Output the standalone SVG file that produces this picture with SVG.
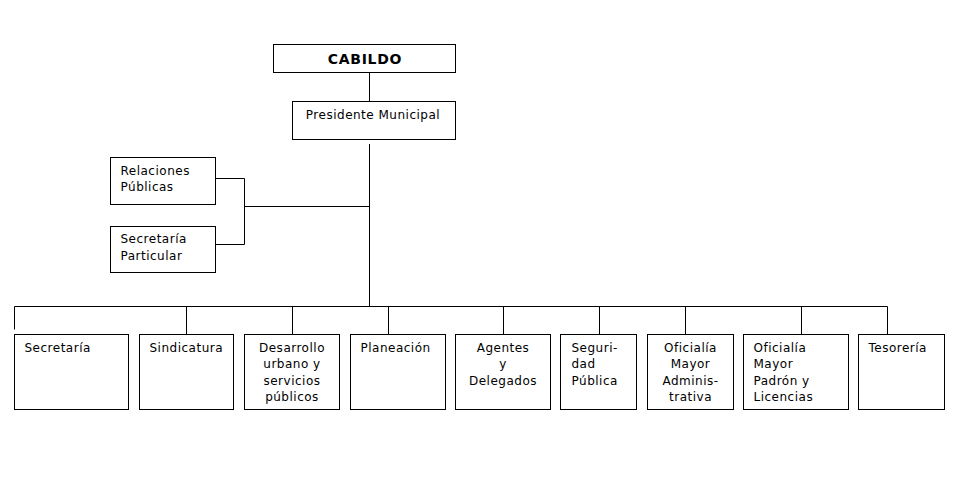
<svg xmlns="http://www.w3.org/2000/svg" width="959" height="479" viewBox="0 0 959 479">
<style>
rect{fill:#fff;stroke:#000;stroke-width:1}
.c line{stroke:#000;stroke-width:1}
text{font-family:"DejaVu Sans","Verdana",sans-serif;font-size:12px;letter-spacing:0.5px;fill:#000}
.m{text-anchor:middle}
.b{font-weight:bold;font-size:14px;letter-spacing:0.7px}
</style>
<rect x="0" y="0" width="959" height="479" style="stroke:none"/>
<g class="c" id="connectors">
<line x1="369.5" y1="72.5" x2="369.5" y2="101.5"/>
<line x1="369.5" y1="144" x2="369.5" y2="306.5"/>
<line x1="215.5" y1="178.5" x2="244.5" y2="178.5"/>
<line x1="215.5" y1="244.5" x2="244.5" y2="244.5"/>
<line x1="244.5" y1="178.5" x2="244.5" y2="244.5"/>
<line x1="244.5" y1="206.5" x2="369.5" y2="206.5"/>
<line x1="14.5" y1="306.5" x2="887.5" y2="306.5"/>
<line x1="14.5" y1="306.5" x2="14.5" y2="329.5"/>
<line x1="186.5" y1="306.5" x2="186.5" y2="334.5"/>
<line x1="292.5" y1="306.5" x2="292.5" y2="334.5"/>
<line x1="388.5" y1="306.5" x2="388.5" y2="334.5"/>
<line x1="503.5" y1="306.5" x2="503.5" y2="334.5"/>
<line x1="599.5" y1="306.5" x2="599.5" y2="334.5"/>
<line x1="685.5" y1="306.5" x2="685.5" y2="334.5"/>
<line x1="801.5" y1="306.5" x2="801.5" y2="334.5"/>
<line x1="887.5" y1="306.5" x2="887.5" y2="334.5"/>
</g>
<g id="cabildo"><rect x="273.5" y="44.5" width="182" height="28"/><text class="b m" x="365" y="64">CABILDO</text></g>
<g id="presidente"><rect x="292.5" y="101.5" width="163" height="38"/><text class="m" x="373" y="119">Presidente Municipal</text></g>
<g id="relaciones"><rect x="110.5" y="157.5" width="105" height="47"/><text x="120.5" y="175">Relaciones</text><text x="120.5" y="191">Públicas</text></g>
<g id="particular"><rect x="110.5" y="226.5" width="105" height="46"/><text x="120.5" y="243">Secretaría</text><text x="120.5" y="260">Particular</text></g>
<g id="secretaria"><rect x="14.5" y="334.5" width="114" height="75"/><text x="24.5" y="352">Secretaría</text></g>
<g id="sindicatura"><rect x="139.5" y="334.5" width="94" height="75"/><text x="149.5" y="352">Sindicatura</text></g>
<g id="desarrollo"><rect x="244.5" y="334.5" width="95" height="75"/><text class="m" x="292" y="352">Desarrollo</text><text class="m" x="292" y="368">urbano y</text><text class="m" x="292" y="384.5">servicios</text><text class="m" x="292" y="400.5">públicos</text></g>
<g id="planeacion"><rect x="350.5" y="334.5" width="95" height="75"/><text x="360.5" y="352">Planeación</text></g>
<g id="agentes"><rect x="455.5" y="334.5" width="95" height="75"/><text class="m" x="503" y="352">Agentes</text><text class="m" x="503" y="368">y</text><text class="m" x="503" y="384.5">Delegados</text></g>
<g id="seguridad"><rect x="560.5" y="334.5" width="76" height="75"/><text x="571.5" y="352">Seguri-</text><text x="571.5" y="368">dad</text><text x="571.5" y="384.5">Pública</text></g>
<g id="oficialia-admin"><rect x="647.5" y="334.5" width="86" height="75"/><text class="m" x="690.5" y="352">Oficialía</text><text class="m" x="690.5" y="368">Mayor</text><text class="m" x="690.5" y="384.5">Adminis-</text><text class="m" x="690.5" y="400.5">trativa</text></g>
<g id="oficialia-padron"><rect x="743.5" y="334.5" width="105" height="75"/><text x="753.5" y="352">Oficialía</text><text x="753.5" y="368">Mayor</text><text x="753.5" y="384.5">Padrón y</text><text x="753.5" y="400.5">Licencias</text></g>
<g id="tesoreria"><rect x="858.5" y="334.5" width="86" height="75"/><text x="868.5" y="352">Tesorería</text></g>
</svg>
